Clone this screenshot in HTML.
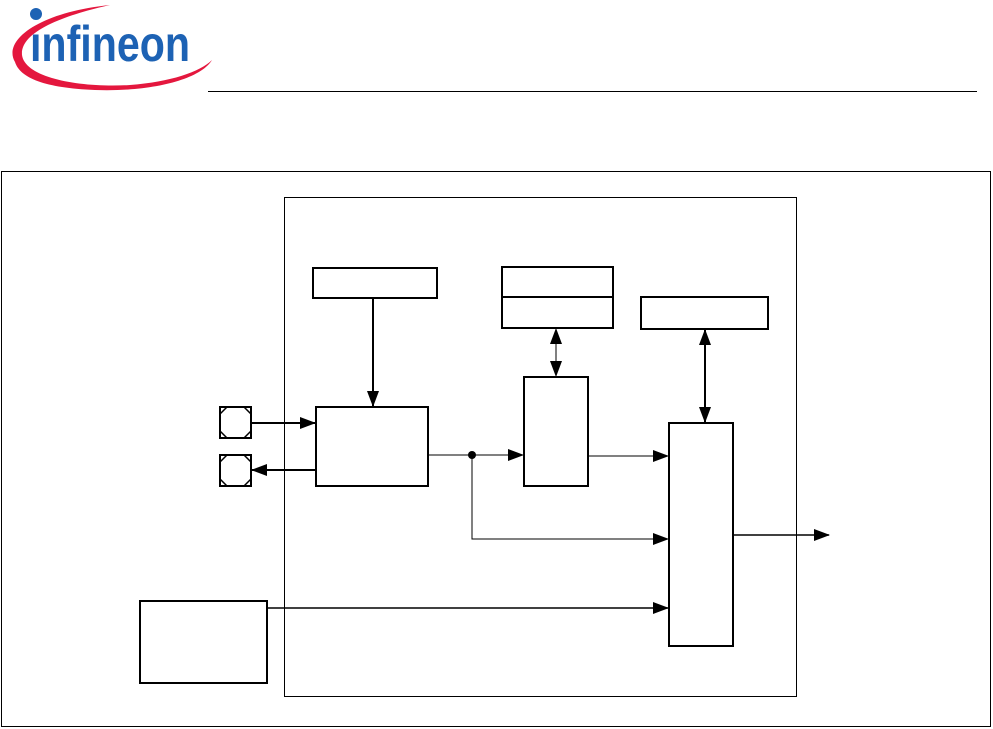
<!DOCTYPE html>
<html><head><meta charset="utf-8"><style>
html,body{margin:0;padding:0;background:#fff;width:993px;height:729px;overflow:hidden}
</style></head><body>
<svg width="993" height="729" viewBox="0 0 993 729" xmlns="http://www.w3.org/2000/svg">
<defs>
<marker id="a" markerWidth="16" markerHeight="12" refX="15" refY="6" orient="auto" markerUnits="userSpaceOnUse">
<path d="M0,0 L16,6 L0,12 Z" fill="#000"/></marker>
<marker id="s" markerWidth="16" markerHeight="12" refX="1" refY="6" orient="auto" markerUnits="userSpaceOnUse">
<path d="M16,0 L0,6 L16,12 Z" fill="#000"/></marker>
</defs>
<!-- logo -->
<path d="M15,62 C2,40 40,12 110,5 C70,14 20,30 22,55 C25,78 80,88 130,85 C170,82 200,72 212,60 C200,80 150,92 95,90 C45,88 20,78 15,62 Z" fill="#e4173e"/>
<circle cx="36" cy="14" r="6" fill="#1d62b4"/>
<text x="30" y="61" font-family="Liberation Sans, sans-serif" font-size="50" font-weight="bold" fill="#1d62b4" textLength="160" lengthAdjust="spacingAndGlyphs">ınfineon</text>
<line x1="208" y1="91.5" x2="977" y2="91.5" stroke="#000" stroke-width="1"/>
<!-- frames -->
<rect x="1.5" y="171.5" width="989" height="555" fill="none" stroke="#000" stroke-width="1"/>
<rect x="284.5" y="197.5" width="512" height="499" fill="none" stroke="#000" stroke-width="1"/>
<g fill="none" stroke="#000" stroke-width="2">
<rect x="313" y="268" width="124" height="30"/>
<rect x="502" y="267" width="111" height="61"/>
<line x1="502" y1="297" x2="613" y2="297"/>
<rect x="641" y="297" width="127" height="32"/>
<rect x="316" y="407" width="112" height="79"/>
<rect x="524" y="377" width="64" height="109"/>
<rect x="669" y="423" width="64" height="223"/>
<rect x="140" y="601" width="127" height="82"/>
<rect x="220" y="407" width="31" height="31"/>
<rect x="220" y="455" width="31" height="31"/>
</g>
<g stroke="#000" stroke-width="1.5">
<path d="M220,414 L227,407 M244,407 L251,414 M220,431 L227,438 M251,431 L244,438"/>
<path d="M220,462 L227,455 M244,455 L251,462 M220,479 L227,486 M251,479 L244,486"/>
</g>
<g stroke="#000" fill="none">
<line x1="373" y1="298" x2="373" y2="406" stroke-width="2" marker-end="url(#a)"/>
<line x1="251" y1="423" x2="315" y2="423" stroke-width="2" marker-end="url(#a)"/>
<line x1="315" y1="470" x2="252" y2="470" stroke-width="2" marker-end="url(#a)"/>
<line x1="428" y1="455" x2="523" y2="455" stroke-width="1" marker-end="url(#a)"/>
<polyline points="472,455 472,539 668,539" stroke-width="1" marker-end="url(#a)"/>
<line x1="588" y1="456" x2="668" y2="456" stroke-width="1" marker-end="url(#a)"/>
<line x1="267" y1="608" x2="668" y2="608" stroke-width="1.5" marker-end="url(#a)"/>
<line x1="733" y1="535" x2="829" y2="535" stroke-width="1.5" marker-end="url(#a)"/>
<line x1="556" y1="329" x2="556" y2="376" stroke-width="1" marker-start="url(#s)" marker-end="url(#a)"/>
<line x1="705" y1="330" x2="705" y2="422" stroke-width="2" marker-start="url(#s)" marker-end="url(#a)"/>
</g>
<circle cx="472" cy="455" r="4" fill="#000"/>
</svg>
</body></html>
